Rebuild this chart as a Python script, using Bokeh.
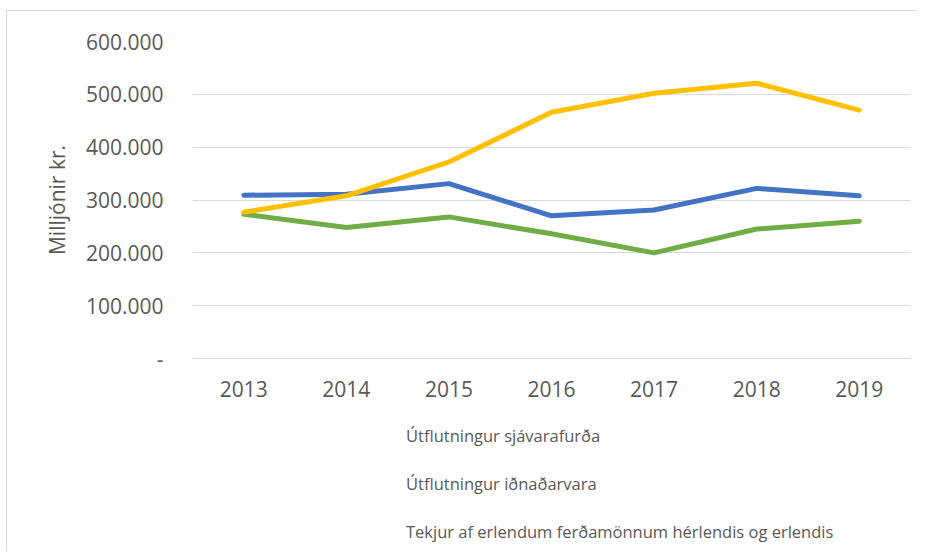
from bokeh.plotting import figure
from bokeh.layouts import column
from bokeh.models import Range1d, FactorRange, Legend, LegendItem, ColumnDataSource
from bokeh.embed import file_html
from bokeh.resources import INLINE

years = ["2013", "2014", "2015", "2016", "2017", "2018", "2019"]
sjavarafurdir = [273000, 248000, 268000, 236000, 200000, 245000, 260000]
idnadarvorur = [309000, 311000, 331000, 270000, 281000, 322000, 308000]
ferdamenn = [277000, 308000, 372000, 466000, 502000, 521000, 470000]

series_names = [
    "Útflutningur sjávarafurða",
    "Útflutningur iðnaðarvara",
    "Tekjur af erlendum ferðamönnum hérlendis og erlendis",
]
series_colors = ["#70AD47", "#4472C4", "#FFC000"]

y_ticks = [0, 100000, 200000, 300000, 400000, 500000, 600000]
y_tick_labels = ["-", "100.000", "200.000", "300.000", "400.000", "500.000", "600.000"]

FONT = "Open Sans"
GREY = "#595959"

# ---- main chart ----
p = figure(
    width=910, height=400,
    x_range=FactorRange(*years, range_padding=0),
    y_range=Range1d(0, 600000),
    output_backend="svg", toolbar_location=None,
)
p.min_border_left = 185
p.min_border_right = 7
p.min_border_top = 30
p.min_border_bottom = 53
p.outline_line_color = None
p.background_fill_color = "white"
p.border_fill_color = "white"

src = ColumnDataSource(dict(x=years, a=sjavarafurdir, b=idnadarvorur, c=ferdamenn))
for col, color in zip(["a", "b", "c"], series_colors):
    p.line("x", col, source=src, line_color=color, line_width=5,
           line_cap="round", line_join="round")

p.yaxis.ticker = y_ticks
p.yaxis.major_label_overrides = {t: l for t, l in zip(y_ticks, y_tick_labels)}
p.yaxis.axis_line_color = None
p.yaxis.major_tick_line_color = None
p.yaxis.minor_tick_line_color = None
p.yaxis.major_label_standoff = 23
p.yaxis.major_label_text_font = FONT
p.yaxis.major_label_text_font_size = "21px"
p.yaxis.major_label_text_color = GREY
p.yaxis.axis_label = "Milljónir kr."
p.yaxis.axis_label_text_font = FONT
p.yaxis.axis_label_text_font_size = "21px"
p.yaxis.axis_label_text_font_style = "normal"
p.yaxis.axis_label_text_color = GREY
p.yaxis.axis_label_standoff = 12

p.xaxis.axis_line_color = "#d9d9d9"
p.xaxis.major_tick_line_color = None
p.xaxis.minor_tick_line_color = None
p.xaxis.major_label_standoff = 16
p.xaxis.major_label_text_font = FONT
p.xaxis.major_label_text_font_size = "21px"
p.xaxis.major_label_text_color = GREY

p.xgrid.grid_line_color = None
p.ygrid.grid_line_color = "#d9d9d9"
p.ygrid.grid_line_width = 1

# ---- legend strip below the chart ----
leg = figure(
    width=910, height=140,
    x_range=Range1d(0, 1), y_range=Range1d(0, 1),
    x_axis_type=None, y_axis_type=None,
    output_backend="svg", toolbar_location=None,
)
leg.min_border_left = 0
leg.min_border_right = 0
leg.min_border_top = 0
leg.min_border_bottom = 0
leg.outline_line_color = None
leg.xgrid.visible = False
leg.ygrid.visible = False
leg.background_fill_color = "white"
leg.border_fill_color = "white"

key_renderers = []
for color in series_colors:
    r = leg.line(x=[], y=[], line_color=color, line_width=5, line_cap="round")
    key_renderers.append(r)

legend = Legend(
    items=[LegendItem(label=n, renderers=[r]) for n, r in zip(series_names, key_renderers)],
    location=(167, 8),
    orientation="vertical",
    glyph_width=42, glyph_height=20, label_height=20,
    spacing=25, padding=0, margin=0, label_standoff=5,
    border_line_color=None, background_fill_alpha=0,
    label_text_font=FONT, label_text_font_size="16.5px", label_text_color=GREY,
)
leg.add_layout(legend, "center")

layout = column(p, leg, spacing=0)
layout.styles = {
    "border-top": "1px solid #d9d9d9",
    "border-left": "1px solid #d9d9d9",
    "margin-left": "6px",
    "margin-top": "10px",
}

open("out.html", "w").write(file_html(layout, INLINE))
